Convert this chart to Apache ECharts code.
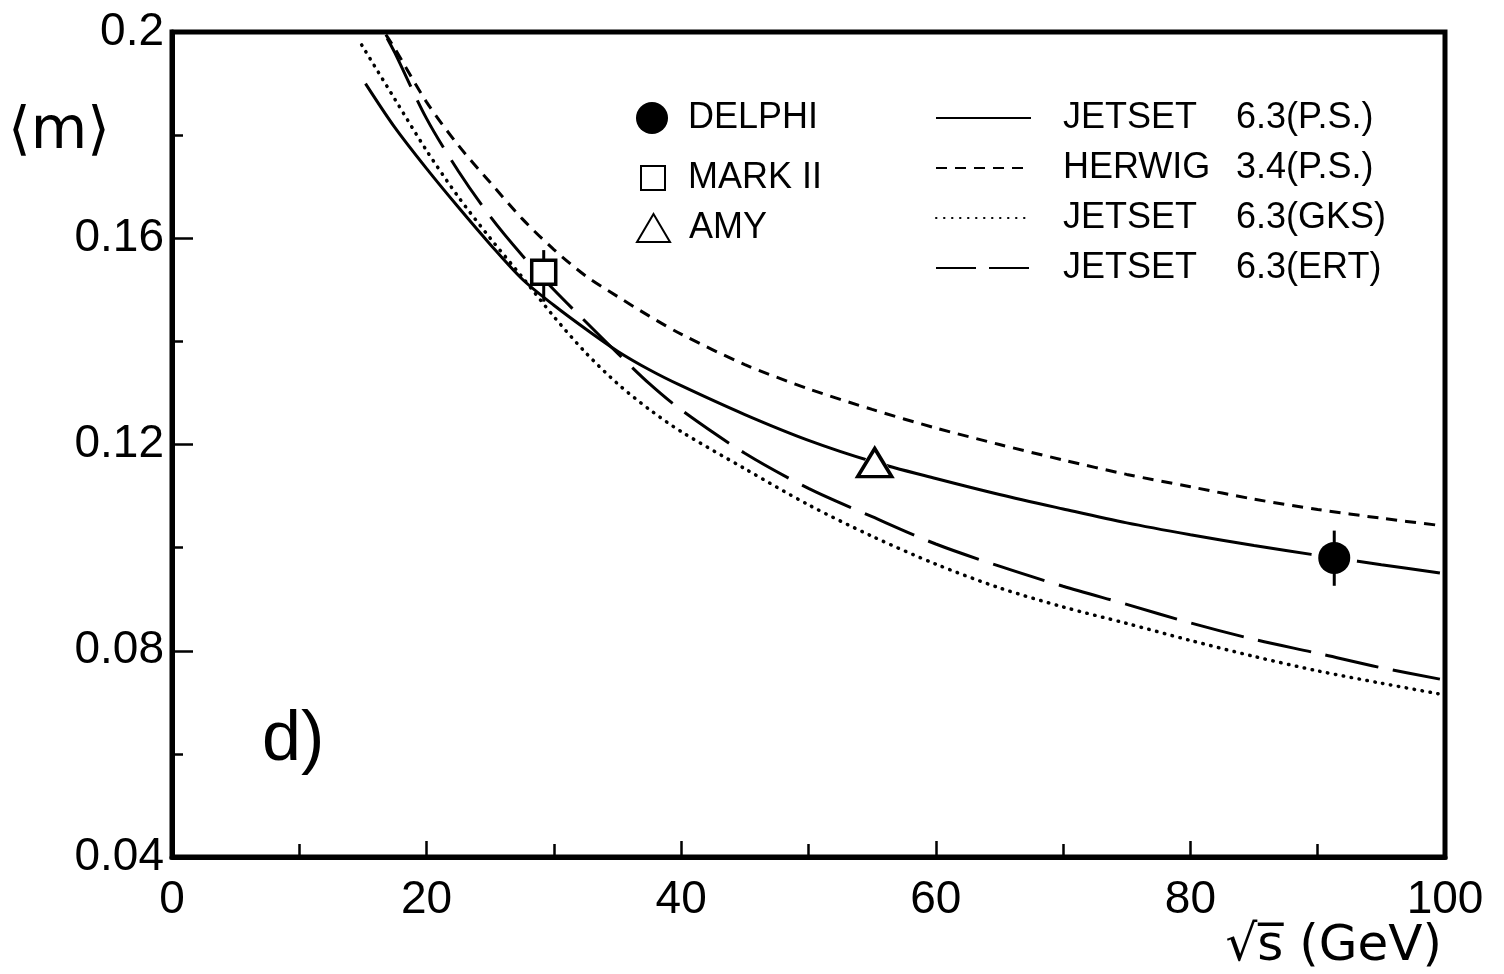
<!DOCTYPE html>
<html>
<head>
<meta charset="utf-8">
<script src="https://cdn.jsdelivr.net/npm/echarts@6/dist/echarts.min.js"></script>
<style>
html,body{margin:0;padding:0;background:#fff;}
#chart{width:1504px;height:974px;}
</style>
</head>
<body>
<div id="chart"></div>
<script>
// ---- data ----
const psX   = [15.2, 17.5, 20, 22.5, 25, 27.5, 30, 32.5, 35, 37.5, 40, 45, 50, 55, 60, 65, 70, 75, 80, 85, 90, 95, 99.6];
const jetsetPS = [0.1900, 0.1815, 0.1735, 0.1660, 0.1588, 0.1521, 0.1470, 0.1424, 0.1381, 0.1345, 0.1314, 0.1258, 0.1208, 0.1167, 0.1134, 0.1103, 0.1075, 0.1048, 0.1025, 0.1004, 0.0985, 0.0967, 0.0951];

const herX  = [16.8, 17.5, 20, 22.5, 25, 27.5, 30, 32.5, 35, 37.5, 40, 45, 50, 55, 60, 65, 70, 75, 80, 85, 90, 95, 99.6];
const herwigPS = [0.1995, 0.1968, 0.1864, 0.1780, 0.1708, 0.1638, 0.1578, 0.1527, 0.1487, 0.1449, 0.1414, 0.1355, 0.1308, 0.1268, 0.1232, 0.1200, 0.1170, 0.1142, 0.1118, 0.1094, 0.1074, 0.1057, 0.1043];

const gksX  = [14.9, 17.5, 20, 22.5, 25, 27.5, 30, 32.5, 35, 37.5, 40, 45, 50, 55, 60, 65, 70, 75, 80, 85, 90, 95, 99.6];
const jetsetGKS = [0.1975, 0.1870, 0.1770, 0.1680, 0.1600, 0.1525, 0.1448, 0.1378, 0.1318, 0.1268, 0.1225, 0.1153, 0.1083, 0.1022, 0.0968, 0.0922, 0.0885, 0.0853, 0.0820, 0.0789, 0.0761, 0.0737, 0.0716];

const ertX  = [16.9, 17.5, 20, 22.5, 25, 27.5, 30, 32.5, 35, 37.5, 40, 45, 50, 55, 60, 65, 70, 75, 80, 85, 90, 95, 99.6];
const jetsetERT = [0.1988, 0.1960, 0.1832, 0.1730, 0.1642, 0.1567, 0.1500, 0.1438, 0.1377, 0.1318, 0.1267, 0.1183, 0.1115, 0.1060, 0.1007, 0.0964, 0.0925, 0.0890, 0.0854, 0.0822, 0.0795, 0.0767, 0.0745];

// measurements: [sqrt(s), <m>, low, high]
const delphi = [[91.3, 0.0980, 0.0926, 0.1033]];
const mark2  = [[29.2, 0.1534, 0.1477, 0.1577]];
const amy    = [[55.2, 0.1165, 0.1165, 0.1165]];

const curveNames = ['JETSET 6.3(P.S.)', 'HERWIG 3.4(P.S.)', 'JETSET 6.3(GKS)', 'JETSET 6.3(ERT)'];

const FONT = 'Liberation Sans';
const zip = (xs, ys) => xs.map((x, i) => [x, ys[i]]);

const chart = echarts.init(document.getElementById('chart'), null, {renderer: 'canvas'});

function lineSeries(name, data, lineStyle) {
  return {
    name, type: 'line', data, symbol: 'none', showSymbol: false,
    smooth: 0.3, z: 2,
    lineStyle: Object.assign({color: '#000', width: 3, opacity: 1}, lineStyle),
    itemStyle: {color: '#000'},
    emphasis: {disabled: true}, animation: false
  };
}

function errSeries(name, data) {
  return {
    name: name + ' err', type: 'custom', z: 4, animation: false,
    data: data.map(d => [d[0], d[2], d[3]]),
    encode: {x: 0, y: [1, 2]},
    renderItem: function (params, api) {
      const a = api.coord([api.value(0), api.value(1)]);
      const b = api.coord([api.value(0), api.value(2)]);
      return {type: 'line', shape: {x1: a[0], y1: a[1], x2: b[0], y2: b[1]},
              style: {stroke: '#000', lineWidth: 3}};
    }
  };
}

const legendText = {fontFamily: FONT, fontSize: 36, color: '#000', lineHeight: 40};

const option = {
  backgroundColor: '#fff',
  animation: false,
  grid: {left: 172, right: 59, top: 32, bottom: 117, show: true,
         borderColor: '#000', borderWidth: 5, backgroundColor: 'transparent'},
  xAxis: {
    type: 'value', min: 0, max: 100, interval: 20,
    axisLine: {show: true, onZero: false, lineStyle: {color: '#000', width: 5}},
    axisTick: {show: true, inside: true, length: 16, lineStyle: {color: '#000', width: 2.5}},
    minorTick: {show: true, splitNumber: 2, length: 13, lineStyle: {color: '#000', width: 2.5}},
    splitLine: {show: false},
    axisLabel: {fontFamily: FONT, fontSize: 46, color: '#000', margin: 20,
                showMinLabel: true, showMaxLabel: true}
  },
  yAxis: {
    type: 'value', min: 0.04, max: 0.2, interval: 0.04,
    axisLine: {show: true, onZero: false, lineStyle: {color: '#000', width: 5}},
    axisTick: {show: true, inside: true, length: 21, lineStyle: {color: '#000', width: 2.5}},
    minorTick: {show: true, splitNumber: 2, length: 11, lineStyle: {color: '#000', width: 2.5}},
    splitLine: {show: false},
    axisLabel: {fontFamily: FONT, fontSize: 46, color: '#000', margin: 8,
                showMinLabel: true, showMaxLabel: true,
                formatter: v => String(+v.toFixed(2))}
  },
  legend: [
    {data: ['DELPHI'], left: 636, top: 98, padding: 0, itemWidth: 32, itemHeight: 32,
     itemStyle: {opacity: 1},
     textStyle: Object.assign({padding: [0, 0, 0, 15]}, legendText), selectedMode: false},
    {data: ['MARK II'], left: 640, top: 158, padding: 0, itemWidth: 24, itemHeight: 24,
     itemStyle: {opacity: 1},
     textStyle: Object.assign({padding: [0, 0, 0, 18]}, legendText), selectedMode: false},
    {data: ['AMY'], left: 636, top: 208, padding: 0, itemWidth: 33, itemHeight: 28,
     itemStyle: {opacity: 1},
     textStyle: Object.assign({padding: [0, 0, 0, 14]}, legendText), selectedMode: false},
    {data: [
       {name: curveNames[0]},
       {name: curveNames[1]},
       {name: curveNames[2]},
       {name: curveNames[3], lineStyle: {type: [40, 13]}}
     ],
     orient: 'vertical', left: 935, top: 98, padding: 0,
     itemWidth: 95, itemHeight: 14, itemGap: 10, selectedMode: false,
     itemStyle: {color: 'transparent', borderColor: 'transparent', borderWidth: 0, opacity: 0},
     formatter: function (name) {
       const i = name.indexOf(' ');
       return '{p|}{a|' + name.slice(0, i) + '}{b|' + name.slice(i + 1) + '}';
     },
     textStyle: Object.assign({rich: {
       p: {width: 27},
       a: {width: 173, fontFamily: FONT, fontSize: 36, color: '#000', lineHeight: 40},
       b: {fontFamily: FONT, fontSize: 36, color: '#000', lineHeight: 40}
     }}, legendText)}
  ],
  graphic: [
    {type: 'text', left: 8, top: 104, style: {text: '⟨m⟩', fontFamily: 'DejaVu Sans', fontSize: 58, fill: '#000'}},
    {type: 'text', left: 262, top: 706, style: {text: 'd)', fontFamily: FONT, fontSize: 70, fill: '#000'}},
    {type: 'text', right: 62, top: 922, style: {text: '√s̅ (GeV)', fontFamily: 'DejaVu Sans', fontSize: 50, fill: '#000'}}
  ],
  series: [
    lineSeries(curveNames[0], zip(psX, jetsetPS), {type: 'solid', width: 3}),
    lineSeries(curveNames[1], zip(herX, herwigPS), {type: [11, 8], width: 3}),
    lineSeries(curveNames[2], zip(gksX, jetsetGKS), {type: [0.5, 7.5], width: 3.5, cap: 'round'}),
    lineSeries(curveNames[3], zip(ertX, jetsetERT), {type: [54, 15], width: 3}),
    // white halos to open small gaps in the curves around the markers
    {name: 'halo-c', type: 'scatter', z: 3, silent: true, data: delphi.map(d => [d[0], d[1]]),
     symbol: 'circle', symbolSize: 46, itemStyle: {color: '#fff', opacity: 1}},
    {name: 'halo-t', type: 'scatter', z: 3, silent: true, data: amy.map(d => [d[0], d[1]]),
     symbol: 'triangle', symbolSize: [44, 38], itemStyle: {color: '#fff', opacity: 1}},
    errSeries('DELPHI', delphi),
    errSeries('MARK II', mark2),
    {name: 'DELPHI', type: 'scatter', z: 5, data: delphi.map(d => [d[0], d[1]]),
     symbol: 'circle', symbolSize: 32, itemStyle: {color: '#000', opacity: 1}},
    {name: 'MARK II', type: 'scatter', z: 5, data: mark2.map(d => [d[0], d[1]]),
     symbol: 'rect', symbolSize: 24, itemStyle: {color: '#fff', borderColor: '#000', borderWidth: 3.5, opacity: 1}},
    {name: 'AMY', type: 'scatter', z: 5, data: amy.map(d => [d[0], d[1]]),
     symbol: 'triangle', symbolSize: [34, 28], itemStyle: {color: '#fff', borderColor: '#000', borderWidth: 3.5, opacity: 1}}
  ]
};
chart.setOption(option);
</script>
</body>
</html>
